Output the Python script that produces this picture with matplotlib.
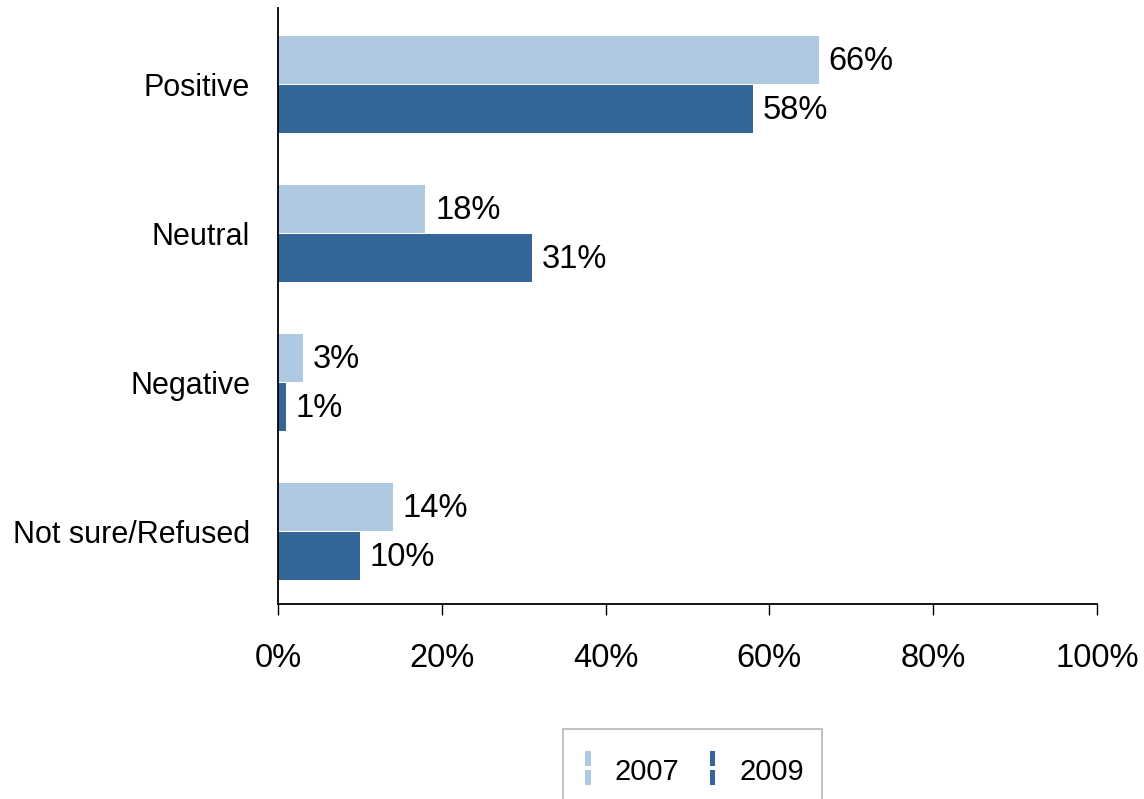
import matplotlib
matplotlib.use("Agg")
import matplotlib.pyplot as plt
from matplotlib.patches import Rectangle
from matplotlib.legend_handler import HandlerBase
from matplotlib.container import BarContainer
import numpy as np

plt.rcParams['font.family'] = ['Liberation Sans', 'DejaVu Sans']

categories = ['Positive', 'Neutral', 'Negative', 'Not sure/Refused']
vals_2007 = [66, 18, 3, 14]
vals_2009 = [58, 31, 1, 10]
years = ['2007', '2009']
colors = ['#AFC9E3', '#346798']
xticks = [0, 20, 40, 60, 80, 100]


class SplitBarHandler(HandlerBase):
    # legend key: a thin vertical bar broken in the middle
    def create_artists(self, legend, orig_handle, xdescent, ydescent,
                       width, height, fontsize, trans):
        c = orig_handle.patches[0].get_facecolor()
        w = 4.0
        xc = width * 0.5 - xdescent
        h = height * 1.65
        yc = -ydescent + height * 0.5 + 1.5
        gap = 3.0
        seg = (h - gap) / 2
        r1 = Rectangle((xc - w / 2, yc - h / 2), w, seg, facecolor=c, edgecolor='none', transform=trans)
        r2 = Rectangle((xc - w / 2, yc + gap / 2), w, seg, facecolor=c, edgecolor='none', transform=trans)
        return [r1, r2]


fig = plt.figure(figsize=(11.44, 7.99), dpi=100)
ax = fig.add_axes([278 / 1144, 1 - 604 / 799, (1097 - 278) / 1144, (604 - 8) / 799])

y = np.arange(len(categories))
h = 0.324
b1 = ax.barh(y - h / 2 - 0.004, vals_2007, height=h, color=colors[0], label=years[0])
b2 = ax.barh(y + h / 2 + 0.004, vals_2009, height=h, color=colors[1], label=years[1])

for bars, vals in ((b1, vals_2007), (b2, vals_2009)):
    for bar, v in zip(bars, vals):
        ax.annotate(f'{v}%', (bar.get_width(), bar.get_y() + bar.get_height() / 2),
                    xytext=(7, -1), textcoords='offset points', ha='left', va='center',
                    fontsize=23.5)

ax.set_xlim(0, 100)
ax.set_ylim(3.486, -0.514)
ax.set_yticks(y)
ax.set_yticklabels(categories, fontsize=22)
ax.set_xticks(xticks)
ax.set_xticklabels([f'{t}%' for t in xticks], fontsize=23.5)
ax.tick_params(axis='y', length=0, pad=20)
ax.tick_params(axis='x', length=8, width=1, pad=20, direction='out')
for s in ('top', 'right'):
    ax.spines[s].set_visible(False)
ax.spines['left'].set_linewidth(1.3)
ax.spines['bottom'].set_linewidth(1.3)

# legend frame (runs off the bottom of the figure like the original)
fig.patches.append(Rectangle((563 / 1144, -0.05), (822 - 563) / 1144, 0.05 + 70 / 799,
                             transform=fig.transFigure, fill=False,
                             edgecolor='#c0c0c0', linewidth=1.4))
leg = fig.legend(handles=[b1, b2], labels=years, handler_map={BarContainer: SplitBarHandler()},
                 loc='center left', bbox_to_anchor=(579 / 1144, 1 - 772 / 799),
                 ncol=2, fontsize=21, frameon=False, borderpad=0, borderaxespad=0,
                 handlelength=0.6, handletextpad=0.61, columnspacing=0.85)

fig.savefig('out.png', dpi=100)
